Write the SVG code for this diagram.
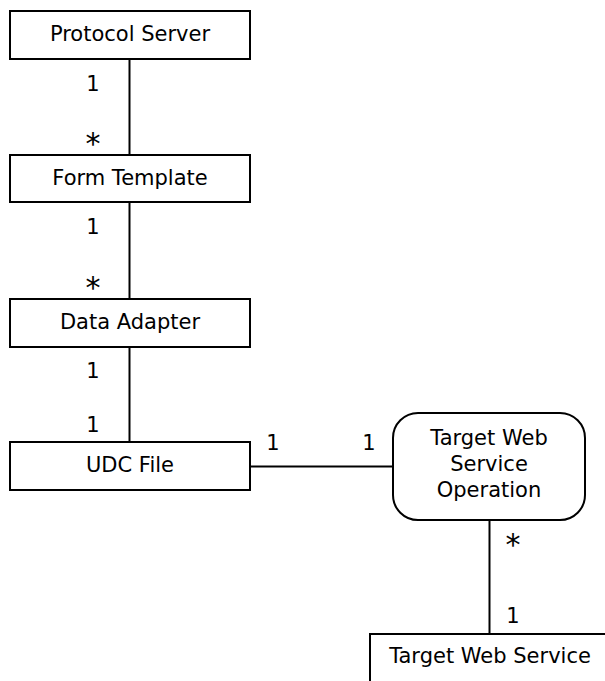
<svg xmlns="http://www.w3.org/2000/svg" width="605" height="681" viewBox="0 0 605 681">
<style>
.box{fill:#fff;stroke:#000;stroke-width:2}
.t{font-family:"DejaVu Sans",Verdana,sans-serif;font-size:21px;fill:#000;text-anchor:middle}
.s{font-size:30px}
.c{stroke:#000;stroke-width:2;fill:none}
</style>
<rect width="605" height="681" fill="#fff"/>
<g id="connectors">
<line class="c" x1="129.5" y1="59" x2="129.5" y2="155"/>
<line class="c" x1="129.5" y1="202" x2="129.5" y2="299"/>
<line class="c" x1="129.5" y1="347" x2="129.5" y2="442"/>
<line class="c" x1="250" y1="466.5" x2="393" y2="466.5"/>
<line class="c" x1="489.5" y1="520" x2="489.5" y2="634"/>
<text class="t" x="93" y="91">1</text>
<text class="t s" x="93" y="154">*</text>
<text class="t" x="93" y="234">1</text>
<text class="t s" x="93" y="298">*</text>
<text class="t" x="93" y="378">1</text>
<text class="t" x="93" y="432">1</text>
<text class="t" x="273" y="450">1</text>
<text class="t" x="369" y="450">1</text>
<text class="t s" x="513" y="555">*</text>
<text class="t" x="513" y="623">1</text>
</g>
<g id="protocol-server">
<rect class="box" x="10" y="11" width="240" height="48"/>
<text class="t" x="130" y="41">Protocol Server</text>
</g>
<g id="form-template">
<rect class="box" x="10" y="155" width="240" height="47"/>
<text class="t" x="130" y="185">Form Template</text>
</g>
<g id="data-adapter">
<rect class="box" x="10" y="299" width="240" height="48"/>
<text class="t" x="130" y="329">Data Adapter</text>
</g>
<g id="udc-file">
<rect class="box" x="10" y="442" width="240" height="48"/>
<text class="t" x="130" y="472">UDC File</text>
</g>
<g id="target-web-service-operation">
<rect class="box" x="393" y="413" width="192" height="107" rx="25" ry="25"/>
<text class="t" x="489" y="445">Target Web</text>
<text class="t" x="489" y="471">Service</text>
<text class="t" x="489" y="497">Operation</text>
</g>
<g id="target-web-service">
<rect class="box" x="370" y="634" width="240" height="48"/>
<text class="t" x="490" y="663">Target Web Service</text>
</g>
</svg>
